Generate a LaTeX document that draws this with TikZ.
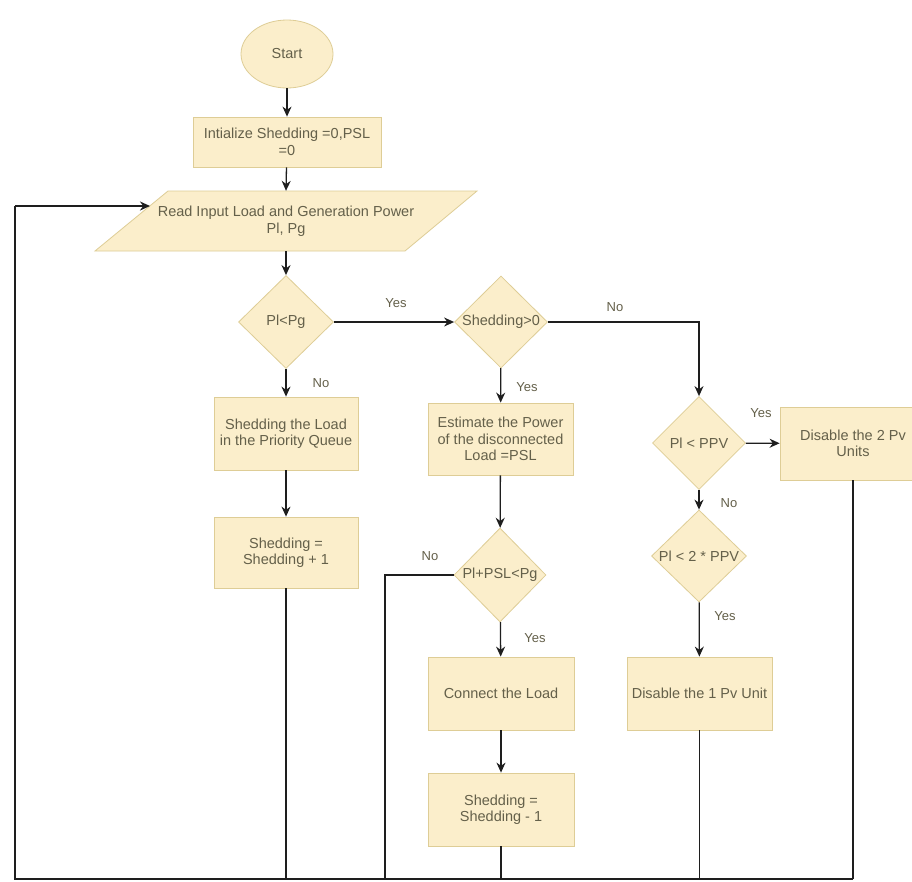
\documentclass[tikz,border=0pt]{standalone}
\usepackage{fontspec}
\setmainfont{Liberation Sans}
\usetikzlibrary{shapes.geometric,arrows.meta}
\definecolor{boxfill}{RGB}{251,238,203}
\definecolor{boxline}{RGB}{222,205,150}
\definecolor{txt}{RGB}{100,96,74}
\definecolor{ln}{RGB}{30,30,30}
\tikzset{
  lbl/.style={font=\fontsize{14.5}{16.5}\selectfont, text=txt},
  stepbox/.style={rectangle, draw=boxline, fill=boxfill, line width=0.8pt, lbl, align=center, inner sep=1pt},
  decbox/.style={diamond, draw=boxline, fill=boxfill, line width=0.8pt, lbl, inner xsep=-14pt, inner ysep=0pt},
  conn/.style={draw=ln, line width=1.3pt},
  arr/.style={conn, -{Stealth[length=10pt,width=9pt]}},
  thick loop/.style={draw=ln, line width=2pt},
  tag/.style={font=\fontsize{13}{15}\selectfont, text=txt}
}
\begin{document}
\begin{tikzpicture}[x=1pt,y=-1pt]
\useasboundingbox (0,0) rectangle (912,881);
\fill[white] (0,0) rectangle (912,881);
\clip (0,0) rectangle (912,881);

% nodes
\node[ellipse, draw=boxline, fill=boxfill, line width=0.8pt, lbl, minimum width=92, minimum height=68, inner sep=0pt] (start) at (287,54) {Start};
\node[stepbox, minimum width=188, minimum height=50] (init) at (287,142) {Intialize Shedding =0,PSL\\=0};
\fill[boxfill] (168,191) -- (477,191) -- (405,251) -- (95,251) -- cycle;
\draw[boxline, line width=0.8pt] (168,191) -- (477,191) -- (405,251) -- (95,251) -- cycle;
\node[rectangle, lbl, align=center, minimum width=240, minimum height=60, inner sep=0pt] (read) at (286,221) {Read Input Load and Generation Power\\Pl, Pg};
\coordinate (readin) at (150,206);

\node[decbox, minimum width=95, minimum height=93] (d1) at (286,322) {Pl<Pg};
\node[stepbox, minimum width=144, minimum height=73] (sl) at (286,433.5) {Shedding the Load\\in the Priority Queue};
\node[stepbox, minimum width=144, minimum height=71] (s1) at (286,552.5) {Shedding =\\Shedding + 1};

\node[decbox, minimum width=93, minimum height=92] (d2) at (501,322) {Shedding>0};
\node[stepbox, minimum width=145, minimum height=72] (est) at (500.5,439) {Estimate the Power\\of the disconnected\\Load =PSL};
\node[decbox, minimum width=92, minimum height=94] (d3) at (500,575) {Pl+PSL<Pg};
\node[stepbox, minimum width=146, minimum height=73] (cl) at (501,693.5) {Connect the Load};
\node[stepbox, minimum width=146, minimum height=73] (s2) at (501,809.5) {Shedding =\\Shedding - 1};

\node[decbox, minimum width=93, minimum height=93] (d4) at (699,443) {Pl < PPV};
\node[stepbox, minimum width=146, minimum height=73] (dis2) at (853,443.5) {Disable the 2 Pv\\Units};
\node[decbox, minimum width=95, minimum height=92] (d5) at (699,556) {Pl < 2 * PPV};
\node[stepbox, minimum width=145, minimum height=73] (dis1) at (699.5,693.5) {Disable the 1 Pv Unit};

% bottom joints
\coordinate (b1) at (286,879);
\coordinate (b2) at (385,879);
\coordinate (b3) at (501,879);
\coordinate (b4) at (699.5,879);
\coordinate (b5) at (853,879);
\coordinate (bl) at (15,879);
\coordinate (tl) at (15,206);
\coordinate (nd3) at (385,575);
\coordinate (nd2) at (699,322);

% connectors
\draw[arr] (start) -- (init);
\draw[arr] (init) -- (read.north);
\draw[arr] (read.south) -- (d1);
\draw[arr] (d1) -- (sl);
\draw[arr] (sl) -- (s1);
\draw[conn] (s1) -- (b1);
\draw[arr] (d1) -- (d2);
\draw[arr] (d2) -- (est);
\draw[arr] (est) -- (d3);
\draw[arr] (d3) -- (cl);
\draw[arr] (cl) -- (s2);
\draw[conn] (s2) -- (b3);
\draw[conn] (d3.west) -- (nd3) -- (b2);
\draw[arr] (d2.east) -- (nd2) -- (d4.north);
\draw[arr] (d4) -- (dis2);
\draw[arr] (d4) -- (d5);
\draw[arr] (d5) -- (dis1);
\draw[conn] (dis1) -- (b4);
\draw[conn] (dis2.south) -- (b5);
\draw[conn] (b5) -- (b1);
\draw[thick loop] (b1) -- (bl) -- (tl);
\draw[thick loop, -{Stealth[length=10pt,width=9pt]}] (tl) -- (readin);

% labels
\node[tag] (lyes1) at (396,303) {Yes};
\node[tag] (lno1) at (321,383) {No};
\node[tag] (lno2) at (615,307) {No};
\node[tag] (lyes2) at (527,387) {Yes};
\node[tag] (lno3) at (430,556) {No};
\node[tag] (lyes3) at (535,638) {Yes};
\node[tag] (lyes4) at (761,413) {Yes};
\node[tag] (lno4) at (729,503) {No};
\node[tag] (lyes5) at (725,616) {Yes};
\end{tikzpicture}
\end{document}
